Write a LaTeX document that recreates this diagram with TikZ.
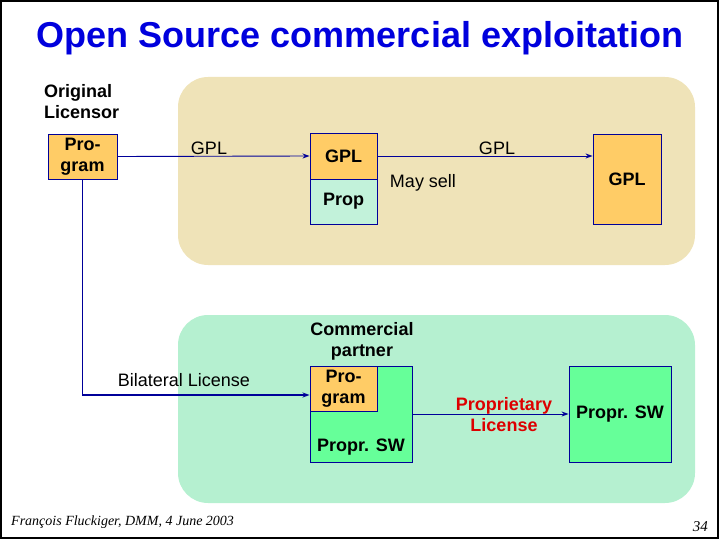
\documentclass[tikz,border=0pt]{standalone}
\usepackage{fontspec}
\setmainfont{Liberation Sans}
\newfontfamily\footfont{Liberation Serif}
\usetikzlibrary{arrows.meta,calc}
\definecolor{navy}{HTML}{000099}
\definecolor{orangebox}{HTML}{FFCC66}
\definecolor{greenbox}{HTML}{66FF99}
\definecolor{yellowzone}{HTML}{EFE3B8}
\definecolor{greenzone}{HTML}{B5F0D0}
\definecolor{propfill}{HTML}{C2F2DA}
\definecolor{titleblue}{HTML}{0000DD}
\definecolor{redtxt}{HTML}{DD0000}
\tikzset{
  zone/.style={rounded corners=30pt, draw=none},
  boxstyle/.style={draw=navy, line width=0.9pt, inner sep=0pt, align=center, font=\fontsize{18}{21}\selectfont\bfseries},
  lbl/.style={inner sep=0pt, align=center, font=\fontsize{18}{21}\selectfont},
  blbl/.style={inner sep=0pt, align=center, font=\fontsize{18}{21}\selectfont\bfseries},
  conn/.style={draw=navy, line width=0.9pt, -{Stealth[length=7pt,width=5pt]}},
}
\begin{document}
\begin{tikzpicture}[x=1pt,y=-1pt]
\useasboundingbox (0,0) rectangle (720,540);
\draw[black, line width=2pt] (1,1) rectangle (718,538);
% title
\node[font=\fontsize{36}{40}\selectfont\bfseries, text=titleblue, inner sep=0pt] (title) at (360,38) {Open Source commercial exploitation};
% zones
\fill[yellowzone, zone] (178,77) rectangle (695,265);
\fill[greenzone, zone] (178,315) rectangle (695,503);
% boxes
\node[boxstyle, fill=orangebox, minimum width=69pt, minimum height=45pt] (prog) at (82.5,156.5) {Pro-\\gram};
\node[boxstyle, fill=orangebox, minimum width=67pt, minimum height=46pt] (gplA) at (343.5,156) {GPL};
\node[boxstyle, fill=propfill, minimum width=67pt, minimum height=45pt] (propA) at (343.5,201.5) {Prop};
\node[boxstyle, fill=orangebox, minimum width=68pt, minimum height=90pt] (gplB) at (627,179) {GPL};
\node[boxstyle, fill=greenbox, minimum width=102pt, minimum height=96pt] (cbox) at (361,414) {};
\node[boxstyle, fill=orangebox, minimum width=67pt, minimum height=45pt] (cprog) at (343.5,388.5) {Pro-\\gram};
\node[blbl] (cboxtxt) at (361,447) {Propr. SW};
\node[boxstyle, fill=greenbox, minimum width=102pt, minimum height=96pt] (rbox) at (620,414) {Propr. SW};
% labels
\node[blbl, align=left, anchor=west] (orig) at (44,102) {Original\\Licensor};
\node[lbl] (gpl1) at (209,148) {GPL};
\node[lbl] (gpl2) at (497,148) {GPL};
\node[lbl] (maysell) at (423,183) {May sell};
\node[lbl] (bilat) at (184,380) {Bilateral License};
\node[blbl] (cpart) at (362,341) {Commercial\\partner};
\node[blbl, text=redtxt] (proplic) at (504,415) {Proprietary\\License};
% connectors
\draw[conn] (prog.east) -- (gplA.west);
\draw[conn] (gplA.east) -- (gplA.east -| gplB.west);
\draw[conn, line width=1.8pt] (prog.south) |- ([yshift=-6.5pt]cprog.west);
\draw[conn] (cbox.east) -- (rbox.west);
% footer
\node[inner sep=0pt, anchor=west, font=\footfont\fontsize{14}{16}\selectfont\itshape] (foot) at (11,522) {François Fluckiger, DMM, 4 June 2003};
\node[inner sep=0pt, anchor=east, font=\footfont\fontsize{15}{16}\selectfont\itshape] (pnum) at (708,527) {34};
\end{tikzpicture}
\end{document}
